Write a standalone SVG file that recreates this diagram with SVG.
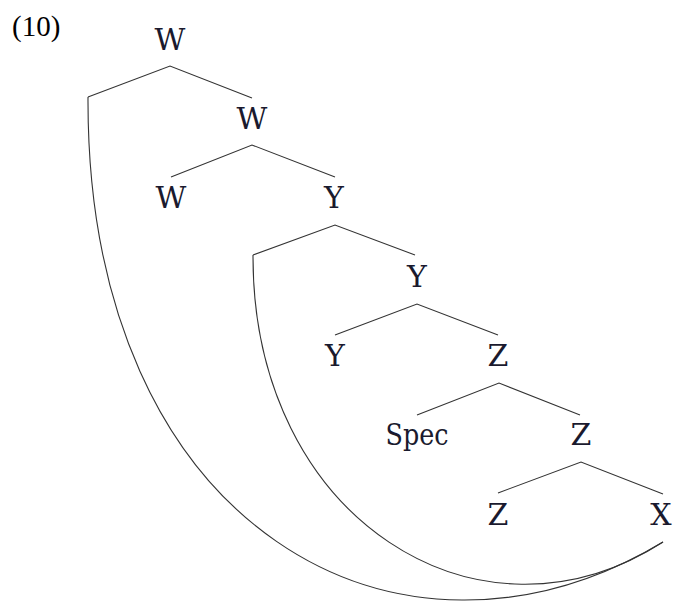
<svg xmlns="http://www.w3.org/2000/svg" width="674" height="601" viewBox="0 0 674 601">
<style>
.lbl{font-family:"DejaVu Serif","Liberation Serif",serif;font-size:30px;fill:#1a1a2e;text-anchor:middle}
.num{font-family:"Liberation Serif","DejaVu Serif",serif;font-size:29px;fill:#000}
.edge{stroke:#333;stroke-width:1.1;fill:none}
</style>
<rect width="674" height="601" fill="#fff"/>
<text class="num" x="12" y="36">(10)</text>
<g id="connectors">
<path class="edge" d="M88,97 L170,66 L252,98"/>
<path class="edge" d="M171,177 L252,145 L335,177"/>
<path class="edge" d="M253,255 L335,225 L415,255"/>
<path class="edge" d="M335,335 L417,304 L498,335"/>
<path class="edge" d="M417,415 L499,383 L580,415"/>
<path class="edge" d="M498,493 L581,462 L663,494"/>
<path class="edge" d="M88,97 C86,530 400,700 663,542"/>
<path class="edge" d="M253,255 C252,520 480,660 663,542"/>
</g>
<g id="n_W1"><text class="lbl" x="170" y="50">W</text></g>
<g id="n_W2"><text class="lbl" x="252" y="129">W</text></g>
<g id="n_W3"><text class="lbl" x="171" y="208">W</text></g>
<g id="n_Y1"><text class="lbl" x="334" y="208">Y</text></g>
<g id="n_Y2"><text class="lbl" x="417" y="287">Y</text></g>
<g id="n_Y3"><text class="lbl" x="335" y="366">Y</text></g>
<g id="n_Z1"><text class="lbl" x="498" y="366">Z</text></g>
<g id="n_Spec"><text class="lbl" x="417" y="445" textLength="63" lengthAdjust="spacingAndGlyphs">Spec</text></g>
<g id="n_Z2"><text class="lbl" x="581" y="445">Z</text></g>
<g id="n_Z3"><text class="lbl" x="498" y="525">Z</text></g>
<g id="n_X"><text class="lbl" x="661" y="525">X</text></g>
</svg>
